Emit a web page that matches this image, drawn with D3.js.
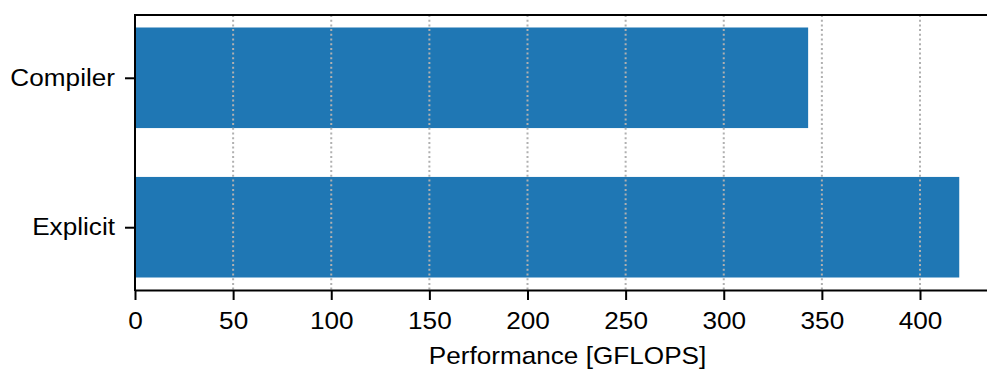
<!DOCTYPE html>
<html><head><meta charset="utf-8">
<script src="https://cdn.jsdelivr.net/npm/d3@7"></script>
<style>body{margin:0;background:#fff}svg{display:block}text{font-family:"Liberation Sans",Arial,sans-serif}</style>
</head><body><svg id="c" width="987" height="370"></svg>
<script>
const categories = ["Compiler", "Explicit"];
const values = [343, 420];
const xTicks = [0, 50, 100, 150, 200, 250, 300, 350, 400];
const xLabel = "Performance [GFLOPS]";

(function () {
const svg = d3.select("#c");
const mLeft = 135, mTop = 15, mBottom = 290;
const x = d3.scaleLinear().domain([0, 441]).range([mLeft, mLeft + 441 * 1.9625]);
const barH = 0.673, pad = 0.05 * (1 + barH);
const y = d3.scaleLinear().domain([-barH / 2 - pad, 1 + barH / 2 + pad]).range([mTop, mBottom]);
const fs = 24, sx = 1.09;

// bars
svg.append("g").selectAll("rect").data(values).join("rect")
  .attr("x", x(0))
  .attr("y", (d, i) => y(i - barH / 2))
  .attr("width", d => x(d) - x(0))
  .attr("height", y(barH) - y(0))
  .attr("fill", "#1f77b4");

// grid
svg.append("g").selectAll("line").data(xTicks).join("line")
  .attr("x1", d => x(d)).attr("x2", d => x(d))
  .attr("y1", mTop).attr("y2", mBottom)
  .attr("stroke", "#b0b0b0").attr("stroke-width", 2)
  .attr("stroke-dasharray", "2,2.7");

// x axis
const xa = svg.append("g").attr("transform", `translate(0,${mBottom})`)
  .call(d3.axisBottom(x).tickValues(xTicks).tickSize(10).tickPadding(11.5).tickSizeOuter(0));
xa.select(".domain").attr("stroke", "#000").attr("stroke-width", 2);
xa.selectAll(".tick line").attr("stroke", "#000").attr("stroke-width", 2);
xa.selectAll(".tick text").attr("font-size", fs).attr("fill", "#000")
  .attr("font-family", "Liberation Sans, Arial, sans-serif")
  .attr("transform", `scale(${sx},1)`);

// y axis
const ya = svg.append("g").attr("transform", `translate(${mLeft},0)`)
  .call(d3.axisLeft(d3.scalePoint().domain(categories).range([y(0), y(1)])).tickSize(10).tickPadding(10).tickSizeOuter(0));
ya.select(".domain").remove();
ya.selectAll(".tick line").attr("stroke", "#000").attr("stroke-width", 2);
ya.selectAll(".tick text").attr("font-size", fs).attr("fill", "#000")
  .attr("font-family", "Liberation Sans, Arial, sans-serif")
  .attr("x", -20 / sx).attr("transform", `scale(${sx},1)`);

// spines
svg.append("line").attr("x1", mLeft).attr("x2", mLeft).attr("y1", mTop).attr("y2", mBottom + 1)
  .attr("stroke", "#000").attr("stroke-width", 2);
svg.append("line").attr("x1", mLeft - 1).attr("x2", 987).attr("y1", mTop).attr("y2", mTop)
  .attr("stroke", "#000").attr("stroke-width", 2);

// x label
svg.append("g").attr("transform", `translate(567.5,364) scale(${sx},1)`)
  .append("text").attr("text-anchor", "middle").attr("font-size", fs).attr("fill", "#000").text(xLabel);
})();
</script></body></html>
